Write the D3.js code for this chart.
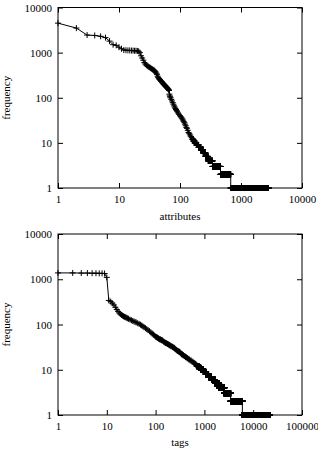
<!DOCTYPE html>
<html><head><meta charset="utf-8">
<script src="https://cdn.jsdelivr.net/npm/d3@7"></script>
<style>
body{margin:0;background:#fff}
svg{display:block}
text{font-family:"Liberation Serif","Times New Roman",serif;font-size:11px;fill:#000}
</style>
</head><body>
<svg id="c" width="318" height="450"></svg>
<script>
// ---------- DATA ----------
// attributes: rank-frequency (head points with distinct frequencies)
const attrRanks = [1,2,3,4,5,6,7,8,9,10,11,12,13,14,15,16,17,18,19,20,21,22,23,24,25,26,27,28,29,30,31,32,33,34,35,36,37,38,39,40,41,42,43,44,45,46,47,48,49,50,51,52,53,54,55,56,57,58,59,60,61,62,63,64,65,66,67,68,69,70,72,74,76,78,80,82,84,86,88,90,93,96,100,103,106,109,112,115,118,121,124,127,130,134,138,142,146,150,155];
const attrFreqs = [4500,3500,2450,2400,2300,2150,1800,1500,1450,1320,1220,1140,1130,1120,1120,1110,1110,1100,1100,1090,1070,1000,850,760,680,600,560,530,510,495,480,470,455,440,430,420,410,400,385,370,350,330,300,280,265,257,250,242,235,228,220,212,205,200,195,190,185,180,175,172,168,164,160,156,152,145,120,110,105,100,92,85,78,72,66,62,58,55,52,49,46,43,40,38,36,34,32,30,28,26,24,22,21,19,17,16,15,14,13];
// attributes: low-frequency levels (frequency, first rank having it)
const attrTailFreqs  = [12,11,10,9,8,7,6,5,4,3,2,1];
const attrTailStarts = [160,166,174,186,202,220,240,262,290,342,462,679];
const attrLastRank = 2800;

// tags: rank-frequency (head points)
const tagRanks = [1,2,3,4,5,6,7,8,9,10,11,12,13,14,15,16,17,18,19,20,21,22,23,24,25,26,27,28,30,32,34,36,38,40,43,46,49,52,55,58,62,66,70,75,80,85,90,95,100,103,106,109,112,115,118,121,125,128,132,136,140,145,150,155,160,165,170,175,180,185,190,195,200,207,215,222,230,237,245,252,260,270,280,290,300,310,320,330,340,350,360,372,385,397,410,425,440,455,470,490,510,535,560,585,610,635,660,680];
const tagFreqs = [1380,1380,1370,1370,1360,1360,1350,1350,1340,1100,340,320,295,270,240,215,195,180,170,163,157,152,148,145,142,139,136,133,128,124,120,117,114,111,107,103,99,95,91,87,83,79,75,71,67,63,60,57,54,53,52,51,50,49,48,47,47,46,45,45,44,42,41,40,39,39,38,37,37,36,35,35,34,33,33,32,31,31,30,29,28,27,26,26,25,25,24,23,22,22,21,21,20,20,19,19,18,18,17,17,16,16,15,15,14,14,13,13];
const tagTailFreqs  = [12,11,10,9,8,7,6,5,4,3,2,1];
const tagTailStarts = [700,770,850,950,1070,1220,1400,1650,2000,2550,3450,6000];
const tagLastRank = 22000;

const yTickValues = [1,10,100,1000,10000];
const xTicksAttr = [1,10,100,1000,10000];
const xTicksTags = [1,10,100,1000,10000,100000];

// ---------- DRAW ----------
function buildSeries(ranks, freqs, tailFreqs, tailStarts, lastRank){
  const pts = ranks.map((r,i)=>[r,freqs[i]]);
  tailFreqs.forEach((f,i)=>{
    const end = i+1 < tailStarts.length ? tailStarts[i+1]-1 : lastRank;
    for(let r=tailStarts[i]; r<=end; r++) pts.push([r,f]);
  });
  return pts;
}

const svg = d3.select("#c");

function panel(cfg){
  const x = d3.scaleLog().domain(cfg.xDomain).range([cfg.left, cfg.right]);
  const y = d3.scaleLog().domain([1,10000]).range([cfg.bottom, cfg.top]);
  const g = svg.append("g");
  const ff = d3.format("d");

  const ax = (sel)=>{ sel.select(".domain").remove(); sel.selectAll("line").attr("stroke","#000"); };
  g.append("g").attr("transform",`translate(${cfg.left},0)`)
    .call(d3.axisLeft(y).tickValues(yTickValues).tickFormat(ff).tickSize(-5).tickPadding(6))
    .call(ax);
  g.append("g").attr("transform",`translate(${cfg.right},0)`)
    .call(d3.axisRight(y).tickValues(yTickValues).tickFormat("").tickSize(-5)).call(ax);
  g.append("g").attr("transform",`translate(0,${cfg.bottom})`)
    .call(d3.axisBottom(x).tickValues(cfg.xTicks).tickFormat(ff).tickSize(-5).tickPadding(7))
    .call(ax);
  g.append("g").attr("transform",`translate(0,${cfg.top})`)
    .call(d3.axisTop(x).tickValues(cfg.xTicks).tickFormat("").tickSize(-5)).call(ax);
  g.selectAll(".tick text").attr("fill","#000");
  g.selectAll("g").attr("font-size",null).attr("font-family",null);

  g.append("rect").attr("x",cfg.left).attr("y",cfg.top)
    .attr("width",cfg.right-cfg.left).attr("height",cfg.bottom-cfg.top)
    .attr("fill","none").attr("stroke","#000").attr("stroke-width",1);

  const pts = cfg.data;
  g.append("path").attr("d", d3.line().x(d=>x(d[0])).y(d=>y(d[1]))(pts))
    .attr("fill","none").attr("stroke","#000").attr("stroke-width",1);
  const s = 3;
  let dstr = "";
  pts.forEach(d=>{
    const px = x(d[0]), py = y(d[1]);
    dstr += `M${(px-s).toFixed(2)},${py.toFixed(2)}h${2*s}M${px.toFixed(2)},${(py-s).toFixed(2)}v${2*s}`;
  });
  g.append("path").attr("d",dstr).attr("fill","none").attr("stroke","#000").attr("stroke-width",1);

  g.append("text").attr("x",(cfg.left+cfg.right)/2).attr("y",cfg.xLabelY)
    .attr("text-anchor","middle").text(cfg.xLabel);
  g.append("text").attr("transform",`translate(10,${(cfg.top+cfg.bottom)/2}) rotate(-90)`)
    .attr("text-anchor","middle").text("frequency");
}

panel({left:58,right:302,top:7.5,bottom:188,xDomain:[1,10000],xTicks:xTicksAttr,
  data:buildSeries(attrRanks,attrFreqs,attrTailFreqs,attrTailStarts,attrLastRank),
  xLabel:"attributes",xLabelY:220});
panel({left:58,right:302,top:234,bottom:415,xDomain:[1,100000],xTicks:xTicksTags,
  data:buildSeries(tagRanks,tagFreqs,tagTailFreqs,tagTailStarts,tagLastRank),
  xLabel:"tags",xLabelY:446});
</script>
</body></html>
